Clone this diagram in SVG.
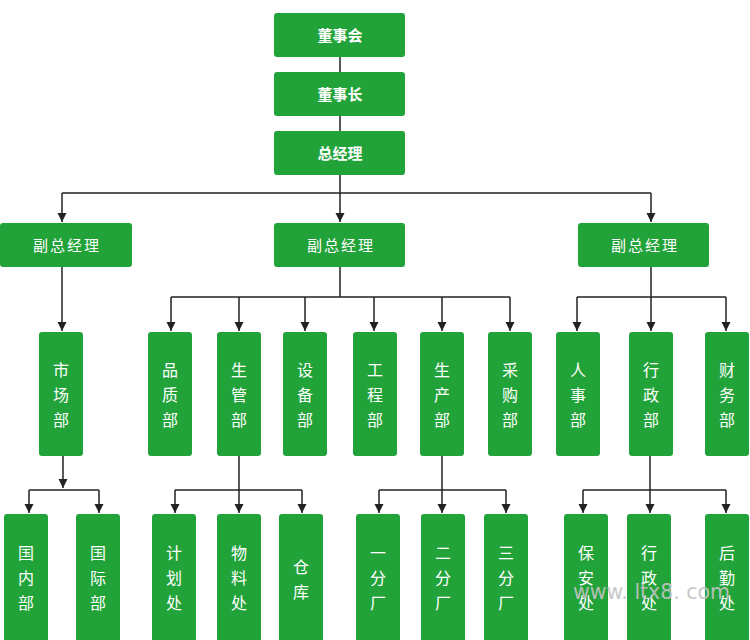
<svg xmlns="http://www.w3.org/2000/svg" width="750" height="640" viewBox="0 0 750 640">
<style>
.box{fill:#22a33a;}
.t{fill:#ffffff;font-family:"Noto Sans CJK SC","Noto Sans",sans-serif;font-size:15px;text-anchor:middle;}
.h{font-weight:bold;}
.s{letter-spacing:2px;}
.v{font-size:16px;}
.c{fill:none;stroke:#222;stroke-width:1.5;}
.a{fill:none;stroke:#222;stroke-width:1.5;marker-end:url(#arr);}
.wm{fill:#c4c4c4;font-family:"DejaVu Sans","Liberation Sans",sans-serif;font-size:22px;opacity:0.9;}
</style>
<defs>
<marker id="arr" markerUnits="userSpaceOnUse" markerWidth="10" markerHeight="10" refX="9" refY="4.5" orient="auto">
<path d="M0,0 L9,4.5 L0,9 z" fill="#222"/>
</marker>
</defs>
<g id="connectors">
<path class="c" d="M340,57 V72 M340,116 V131 M340,175 V193 M62,193 H651"/>
<path class="a" d="M62,193 V222"/>
<path class="a" d="M340,193 V222"/>
<path class="a" d="M651,193 V222"/>
<path class="a" d="M62,267 V331"/>
<path class="c" d="M340,267 V297 M171,297 H510"/>
<path class="a" d="M171,297 V331"/>
<path class="a" d="M239,297 V331"/>
<path class="a" d="M305,297 V331"/>
<path class="a" d="M374,297 V331"/>
<path class="a" d="M442,297 V331"/>
<path class="a" d="M510,297 V331"/>
<path class="c" d="M651,267 V297 M577,297 H726"/>
<path class="a" d="M577,297 V331"/>
<path class="a" d="M651,297 V331"/>
<path class="a" d="M726,297 V331"/>
<path class="a" d="M63,456 V488"/>
<path class="c" d="M29,490 H99"/>
<path class="a" d="M29,490 V513"/>
<path class="a" d="M99,490 V513"/>
<path class="a" d="M239,456 V513"/>
<path class="c" d="M175,490 H302"/>
<path class="a" d="M175,490 V513"/>
<path class="a" d="M302,490 V513"/>
<path class="a" d="M442,456 V513"/>
<path class="c" d="M379,490 H506"/>
<path class="a" d="M379,490 V513"/>
<path class="a" d="M506,490 V513"/>
<path class="a" d="M650,456 V513"/>
<path class="c" d="M583,490 H726"/>
<path class="a" d="M583,490 V513"/>
<path class="a" d="M726,490 V513"/>
</g>
<g id="n-dongshihui"><rect class="box" x="274" y="13" width="131" height="44" rx="3"/><text class="t h" x="340" y="40.5">董事会</text></g>
<g id="n-dongshizhang"><rect class="box" x="274" y="72" width="131" height="44" rx="3"/><text class="t h" x="340" y="99.5">董事长</text></g>
<g id="n-zongjingli"><rect class="box" x="274" y="131" width="131" height="44" rx="3"/><text class="t h" x="340" y="158.5">总经理</text></g>
<g id="n-fu1"><rect class="box" x="0" y="223" width="132" height="44" rx="3"/><text class="t s" x="67" y="250.5">副总经理</text></g>
<g id="n-fu2"><rect class="box" x="274" y="223" width="131" height="44" rx="3"/><text class="t s" x="341" y="250.5">副总经理</text></g>
<g id="n-fu3"><rect class="box" x="578" y="223" width="131" height="44" rx="3"/><text class="t s" x="645" y="250.5">副总经理</text></g>
<g id="n-shichang"><rect class="box" x="39" y="332" width="44" height="124" rx="3"/><text class="t v" x="61"><tspan x="61" y="375.5">市</tspan><tspan x="61" y="400.5">场</tspan><tspan x="61" y="425.5">部</tspan></text></g>
<g id="n-pinzhi"><rect class="box" x="148" y="332" width="44" height="124" rx="3"/><text class="t v"><tspan x="170" y="375.5">品</tspan><tspan x="170" y="400.5">质</tspan><tspan x="170" y="425.5">部</tspan></text></g>
<g id="n-shengguan"><rect class="box" x="217" y="332" width="44" height="124" rx="3"/><text class="t v"><tspan x="239" y="375.5">生</tspan><tspan x="239" y="400.5">管</tspan><tspan x="239" y="425.5">部</tspan></text></g>
<g id="n-shebei"><rect class="box" x="283" y="332" width="44" height="124" rx="3"/><text class="t v"><tspan x="305" y="375.5">设</tspan><tspan x="305" y="400.5">备</tspan><tspan x="305" y="425.5">部</tspan></text></g>
<g id="n-gongcheng"><rect class="box" x="353" y="332" width="44" height="124" rx="3"/><text class="t v"><tspan x="375" y="375.5">工</tspan><tspan x="375" y="400.5">程</tspan><tspan x="375" y="425.5">部</tspan></text></g>
<g id="n-shengchan"><rect class="box" x="420" y="332" width="44" height="124" rx="3"/><text class="t v"><tspan x="442" y="375.5">生</tspan><tspan x="442" y="400.5">产</tspan><tspan x="442" y="425.5">部</tspan></text></g>
<g id="n-caigou"><rect class="box" x="488" y="332" width="44" height="124" rx="3"/><text class="t v"><tspan x="510" y="375.5">采</tspan><tspan x="510" y="400.5">购</tspan><tspan x="510" y="425.5">部</tspan></text></g>
<g id="n-renshi"><rect class="box" x="556" y="332" width="44" height="124" rx="3"/><text class="t v"><tspan x="578" y="375.5">人</tspan><tspan x="578" y="400.5">事</tspan><tspan x="578" y="425.5">部</tspan></text></g>
<g id="n-xingzhengbu"><rect class="box" x="629" y="332" width="44" height="124" rx="3"/><text class="t v"><tspan x="651" y="375.5">行</tspan><tspan x="651" y="400.5">政</tspan><tspan x="651" y="425.5">部</tspan></text></g>
<g id="n-caiwu"><rect class="box" x="705" y="332" width="44" height="124" rx="3"/><text class="t v"><tspan x="727" y="375.5">财</tspan><tspan x="727" y="400.5">务</tspan><tspan x="727" y="425.5">部</tspan></text></g>
<g id="n-guonei"><rect class="box" x="4" y="514" width="44" height="130" rx="3"/><text class="t v"><tspan x="26" y="558.5">国</tspan><tspan x="26" y="583.5">内</tspan><tspan x="26" y="608.5">部</tspan></text></g>
<g id="n-guoji"><rect class="box" x="76" y="514" width="44" height="130" rx="3"/><text class="t v"><tspan x="98" y="558.5">国</tspan><tspan x="98" y="583.5">际</tspan><tspan x="98" y="608.5">部</tspan></text></g>
<g id="n-jihua"><rect class="box" x="152" y="514" width="44" height="130" rx="3"/><text class="t v"><tspan x="174" y="558.5">计</tspan><tspan x="174" y="583.5">划</tspan><tspan x="174" y="608.5">处</tspan></text></g>
<g id="n-wuliao"><rect class="box" x="217" y="514" width="44" height="130" rx="3"/><text class="t v"><tspan x="239" y="558.5">物</tspan><tspan x="239" y="583.5">料</tspan><tspan x="239" y="608.5">处</tspan></text></g>
<g id="n-cangku"><rect class="box" x="279" y="514" width="44" height="130" rx="3"/><text class="t v"><tspan x="301" y="572.5">仓</tspan><tspan x="301" y="597.5">库</tspan></text></g>
<g id="n-yi"><rect class="box" x="356" y="514" width="44" height="130" rx="3"/><text class="t v"><tspan x="378" y="558.5">一</tspan><tspan x="378" y="583.5">分</tspan><tspan x="378" y="608.5">厂</tspan></text></g>
<g id="n-er"><rect class="box" x="421" y="514" width="44" height="130" rx="3"/><text class="t v"><tspan x="443" y="558.5">二</tspan><tspan x="443" y="583.5">分</tspan><tspan x="443" y="608.5">厂</tspan></text></g>
<g id="n-san"><rect class="box" x="484" y="514" width="44" height="130" rx="3"/><text class="t v"><tspan x="506" y="558.5">三</tspan><tspan x="506" y="583.5">分</tspan><tspan x="506" y="608.5">厂</tspan></text></g>
<g id="n-baoan"><rect class="box" x="564" y="514" width="44" height="130" rx="3"/><text class="t v"><tspan x="586" y="558.5">保</tspan><tspan x="586" y="583.5">安</tspan><tspan x="586" y="608.5">处</tspan></text></g>
<g id="n-xingzhengchu"><rect class="box" x="627" y="514" width="44" height="130" rx="3"/><text class="t v"><tspan x="649" y="558.5">行</tspan><tspan x="649" y="583.5">政</tspan><tspan x="649" y="608.5">处</tspan></text></g>
<g id="n-houqin"><rect class="box" x="705" y="514" width="44" height="130" rx="3"/><text class="t v"><tspan x="727" y="558.5">后</tspan><tspan x="727" y="583.5">勤</tspan><tspan x="727" y="608.5">处</tspan></text></g>
<text class="wm" x="573" y="599" textLength="157" lengthAdjust="spacingAndGlyphs">www. ltx8. com</text>
</svg>
